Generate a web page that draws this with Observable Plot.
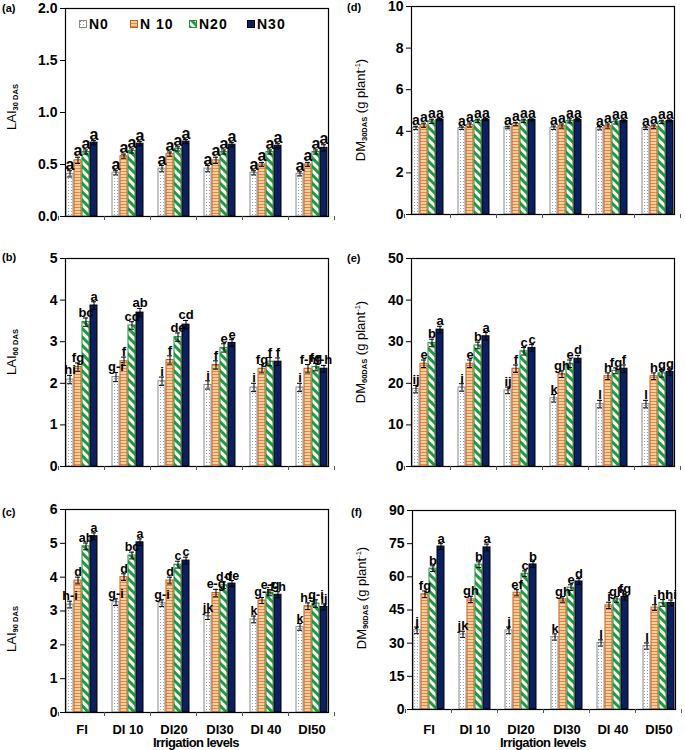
<!DOCTYPE html>
<html><head><meta charset="utf-8">
<script src="https://cdn.jsdelivr.net/npm/d3@7"></script>
<script src="https://cdn.jsdelivr.net/npm/@observablehq/plot@0.6"></script>
<style>
body{margin:0;background:#fff;}
#root{position:relative;width:685px;height:750px;overflow:hidden;font-family:"Liberation Sans",Arial,sans-serif;color:#000;}
.panel{position:absolute;}
.tag{position:absolute;font-weight:bold;font-size:11px;line-height:11px;}
.ylab{position:absolute;transform:translate(-50%,-50%) rotate(-90deg);white-space:nowrap;font-size:13px;line-height:13px;}
.ylab sub{font-size:7.5px;font-weight:bold;vertical-align:-2px;}
.ylab sup{font-size:7.5px;vertical-align:5px;}
.xlab{position:absolute;transform:translate(-50%,-50%);white-space:nowrap;font-weight:bold;font-size:13px;letter-spacing:-0.6px;}
.leg{position:absolute;display:flex;align-items:center;font-weight:bold;font-size:14px;letter-spacing:1px;}
.leg svg{margin-right:2px;}
</style></head>
<body>
<svg width="0" height="0" style="position:absolute;left:0;top:0">
<defs>
<pattern id="pN0" patternUnits="userSpaceOnUse" width="3" height="3"><rect width="3" height="3" fill="#ffffff"/><rect x="1" y="1" width="1" height="1" fill="#8ea2c6"/></pattern>
<pattern id="pN10" patternUnits="userSpaceOnUse" width="4" height="3"><rect width="4" height="3" fill="#fbd0a6"/><rect y="0" width="4" height="1" fill="#ee8538"/></pattern>
<pattern id="pN20" patternUnits="userSpaceOnUse" width="6" height="6" patternTransform="rotate(-45)"><rect width="6" height="6" fill="#ffffff"/><rect width="3" height="6" fill="#1f9a3c"/></pattern>
</defs>
</svg>
<div id="root"></div>
<script>
// ---------- data ----------
const levels = ["FI", "DI 10", "DI20", "DI30", "DI 40", "DI50"];
const series = ["N0", "N10", "N20", "N30"];
const legendLabels = ["N0", "N 10", "N20", "N30"];

// (a) LAI 30 DAS : rows = irrigation levels, columns = N0, N10, N20, N30
const laiA = [[0.41,0.54,0.62,0.71],[0.42,0.58,0.63,0.70],[0.46,0.60,0.65,0.72],[0.46,0.54,0.62,0.69],[0.42,0.50,0.62,0.68],[0.41,0.50,0.62,0.66]];
const laiAErr = [[0.03,0.03,0.02,0.02],[0.02,0.02,0.02,0.02],[0.03,0.02,0.02,0.02],[0.03,0.03,0.02,0.02],[0.02,0.02,0.02,0.02],[0.02,0.02,0.02,0.03]];
const laiALet = [["a","a","a","a"],["a","a","a","a"],["a","a","a","a"],["a","a","a","a"],["a","a","a","a"],["a","a","a","a"]];

// (d) DM 30 DAS
const dmD = [[4.16,4.29,4.48,4.56],[4.15,4.30,4.50,4.56],[4.18,4.35,4.50,4.55],[4.17,4.25,4.50,4.55],[4.15,4.25,4.45,4.50],[4.15,4.22,4.45,4.50]];
const dmDErr = [[0.08,0.10,0.10,0.05],[0.06,0.10,0.08,0.05],[0.06,0.08,0.08,0.05],[0.08,0.10,0.10,0.06],[0.08,0.10,0.10,0.05],[0.06,0.08,0.08,0.05]];
const dmDLet = [["a","a","a","a"],["a","a","a","a"],["a","a","a","a"],["a","a","a","a"],["a","a","a","a"],["a","a","a","a"]];

// (b) LAI 60 DAS
const laiB = [[2.09,2.39,3.47,3.87],[2.15,2.53,3.39,3.70],[2.05,2.56,3.11,3.41],[1.96,2.44,2.85,2.97],[1.90,2.35,2.52,2.52],[1.90,2.35,2.39,2.35]];
const laiBErr = [[0.10,0.10,0.10,0.09],[0.11,0.10,0.09,0.10],[0.10,0.10,0.10,0.10],[0.10,0.10,0.10,0.08],[0.10,0.10,0.10,0.09],[0.10,0.10,0.09,0.08]];
const laiBLet = [["hi","fg","bc","a"],["g-i","f","cd","ab"],["i","f","de","cd"],["i","f","e","e"],["i","fg","f","f"],["i","f-h","fg","f-h"]];

// (e) DM 60 DAS
const dmE = [[18.6,24.7,29.7,32.9],[19.0,24.7,29.1,31.3],[18.3,23.5,27.7,28.5],[16.4,22.2,24.7,25.9],[15.0,21.7,23.0,23.5],[15.0,21.7,22.4,22.7]];
const dmEErr = [[0.9,0.9,0.9,0.8],[0.9,0.9,0.8,0.9],[0.8,0.9,0.9,0.8],[0.9,0.8,0.9,0.8],[0.9,0.8,0.7,0.9],[0.9,0.8,0.9,0.8]];
const dmELet = [["ij","e","b","a"],["i","e","b","a"],["ij","f","c","c"],["k","gh","e","d"],["l","h","fg","f"],["l","h","g","g"]];

// (c) LAI 90 DAS
const laiC = [[3.19,3.90,4.91,5.21],[3.26,4.00,4.64,5.03],[3.23,3.90,4.37,4.49],[2.85,3.53,3.76,3.81],[2.75,3.31,3.54,3.48],[2.53,3.14,3.22,3.12]];
const laiCErr = [[0.10,0.10,0.10,0.10],[0.10,0.10,0.10,0.10],[0.10,0.10,0.10,0.10],[0.10,0.11,0.10,0.09],[0.10,0.09,0.09,0.09],[0.10,0.10,0.11,0.09]];
const laiCLet = [["h-i","d","ab","a"],["g-i","d","bc","a"],["g-i","d","c","c"],["jk","e-g","d-f","de"],["k","g-i","e-g","f-h"],["k","h-j","g-i","ij"]];

// (f) DM 90 DAS
const dmF = [[35.8,52.1,63.7,73.7],[34.0,49.8,65.5,73.3],[35.8,52.8,61.4,65.6],[32.8,49.8,55.1,57.9],[30.1,47.1,49.8,50.9],[28.7,46.1,48.2,48.2]];
const dmFErr = [[1.5,1.5,1.3,1.3],[1.4,1.4,1.3,1.5],[1.5,1.4,1.3,1.3],[1.4,1.3,1.3,1.3],[1.4,1.4,1.3,1.4],[1.4,1.3,1.5,1.3]];
const dmFLet = [["j","fg","b","a"],["jk","gh","b","a"],["j","ef","c","b"],["k","gh","e","d"],["l","i","gh","fg"],["l","i","hi","hi"]];

const ticksA = [0, 0.5, 1, 1.5, 2];
const ticksD = [0, 2, 4, 6, 8, 10];
const ticksB = [0, 1, 2, 3, 4, 5];
const ticksE = [0, 10, 20, 30, 40, 50];
const ticksC = [0, 1, 2, 3, 4, 5, 6];
const ticksF = [0, 15, 30, 45, 60, 75, 90];

// ---------- styles ----------
const fillOf = {N0: "url(#pN0)", N10: "url(#pN10)", N20: "url(#pN20)", N30: "#0c1f5e"};
const strokeOf = {N0: "#8a8a8a", N10: "#c2611f", N20: "#1f8f38", N30: "#000000"};
const FONT = '"Liberation Sans", Arial, sans-serif';
const root = document.getElementById("root");

function panel(o) {
  const data = [];
  levels.forEach((lv, i) => series.forEach((s, j) => data.push({
    level: lv, series: s, value: o.rows[i][j], err: o.errs[i][j], letter: o.letters[i][j]
  })));
  const marks = [
    Plot.axisY({ticks: o.ticks, tickFormat: o.fmt, tickSize: 5, tickPadding: 3, label: null, fontSize: 14, fontWeight: "bold"}),
    Plot.barY(data, {fx: "level", x: "series", y: "value", fill: d => fillOf[d.series], stroke: d => strokeOf[d.series], strokeWidth: 1}),
    Plot.ruleX(data, {fx: "level", x: "series", y1: d => d.value - d.err, y2: d => d.value + d.err, stroke: "#000", strokeWidth: 1}),
    Plot.tickY(data, {fx: "level", x: "series", y: d => d.value + d.err, stroke: "#000", insetLeft: 1, insetRight: 1}),
    Plot.tickY(data, {fx: "level", x: "series", y: d => d.value - d.err, stroke: "#000", insetLeft: 1, insetRight: 1}),
    Plot.text(data, {fx: "level", x: "series", y: d => d.value + d.err, text: "letter", lineAnchor: "bottom", dy: -1, fontSize: o.ls, fontWeight: "bold", fill: "#000"}),
    Plot.frame({facet: "super", stroke: "#000", strokeWidth: 1.2})
  ];
  if (o.showX) marks.push(Plot.axisFx({anchor: "bottom", tickSize: 0, tickPadding: o.tp, label: null, fontSize: 13, fontWeight: "bold"}));
  const fxOpts = {domain: levels, paddingInner: 0.28, paddingOuter: 0.14, label: null};
  if (!o.showX) fxOpts.axis = null;
  const chart = Plot.plot({
    width: o.w, height: o.h,
    marginLeft: o.ml, marginRight: o.mr, marginTop: o.mt, marginBottom: o.mb,
    style: {fontFamily: FONT, fontWeight: "bold", fontSize: "13px", background: "transparent", overflow: "visible"},
    fx: fxOpts,
    x: {domain: series, paddingInner: 0.1, paddingOuter: 0, axis: null},
    y: {domain: [o.ticks[0], o.ticks[o.ticks.length - 1]], label: null},
    color: {type: "identity"},
    marks
  });
  // boundary tick marks between irrigation groups (from the fx band scale)
  const fx = chart.scale("fx");
  const half = (fx.step - fx.bandwidth) / 2;
  const bounds = levels.map(l => fx.apply(l) - half);
  bounds.push(fx.apply(levels[levels.length - 1]) + fx.bandwidth + half);
  const yb = o.h - o.mb;
  d3.select(chart).append("g").attr("stroke", "#555").selectAll("line").data(bounds).join("line")
    .attr("x1", d => d).attr("x2", d => d).attr("y1", yb).attr("y2", yb + 4);
  chart.classList.add("panel");
  chart.style.left = o.x + "px";
  chart.style.top = o.y + "px";
  root.appendChild(chart);
}

function tag(t, x, y) {
  const d = document.createElement("div");
  d.className = "tag"; d.textContent = t;
  d.style.left = x + "px"; d.style.top = y + "px";
  root.appendChild(d);
}
function ylab(html, x, y) {
  const d = document.createElement("div");
  d.className = "ylab"; d.innerHTML = html;
  d.style.left = x + "px"; d.style.top = y + "px";
  root.appendChild(d);
}
function xlab(t, x, y) {
  const d = document.createElement("div");
  d.className = "xlab"; d.textContent = t;
  d.style.left = x + "px"; d.style.top = y + "px";
  root.appendChild(d);
}

const f1 = d3.format(".1f");
const f0 = d3.format("d");

panel({x: 0, y: 0, w: 342, h: 230, ml: 58, mr: 7, mt: 8, mb: 14, rows: laiA, errs: laiAErr, letters: laiALet, ticks: ticksA, fmt: f1, ls: 16});
panel({x: 342, y: 0, w: 343, h: 230, ml: 61, mr: 2, mt: 6, mb: 16, rows: dmD, errs: dmDErr, letters: dmDLet, ticks: ticksD, fmt: f0, ls: 14});
panel({x: 0, y: 230, w: 342, h: 250, ml: 58, mr: 7, mt: 28, mb: 14, rows: laiB, errs: laiBErr, letters: laiBLet, ticks: ticksB, fmt: f0, ls: 13});
panel({x: 342, y: 230, w: 343, h: 250, ml: 61, mr: 2, mt: 28, mb: 14, rows: dmE, errs: dmEErr, letters: dmELet, ticks: ticksE, fmt: f0, ls: 13});
panel({x: 0, y: 480, w: 342, h: 270, ml: 58, mr: 7, mt: 29, mb: 38, rows: laiC, errs: laiCErr, letters: laiCLet, ticks: ticksC, fmt: f0, ls: 12.5, showX: true, tp: 12});
panel({x: 342, y: 480, w: 343, h: 270, ml: 62, mr: 2, mt: 30, mb: 41, rows: dmF, errs: dmFErr, letters: dmFLet, ticks: ticksF, fmt: f0, ls: 13, showX: true, tp: 15});

tag("(a)", 2, 3); tag("(d)", 347, 2);
tag("(b)", 2, 252); tag("(e)", 347, 253);
tag("(c)", 2, 507); tag("(f)", 351, 507);

ylab('LAI<sub>30 DAS</sub>', 13, 107);
ylab('LAI<sub>60 DAS</sub>', 13, 352);
ylab('LAI<sub>90 DAS</sub>', 13, 629);
ylab('DM<sub>30DAS</sub> (g plant<sup>-1</sup>)', 361, 110);
ylab('DM<sub>60DAS</sub> (g plant<sup>-1</sup>)', 361, 352);
ylab('DM<sub>90DAS</sub> (g plant<sup>-1</sup>)', 362, 598);

xlab("Irrigation levels", 196, 742);
xlab("Irrigation levels", 543, 742);

// legend inside panel (a)
const legX = [79, 130, 189, 247];
series.forEach((s, i) => {
  const d = document.createElement("div");
  d.className = "leg";
  d.style.left = legX[i] + "px"; d.style.top = "16px";
  d.innerHTML = `<svg width="8" height="8"><rect x="0.5" y="0.5" width="7" height="7" fill="${fillOf[s]}" stroke="${strokeOf[s]}"/></svg>${legendLabels[i]}`;
  root.appendChild(d);
});
</script>
</body></html>
